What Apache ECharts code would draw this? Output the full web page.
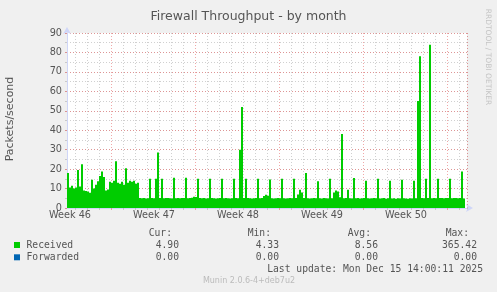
<!DOCTYPE html>
<html><head><meta charset="utf-8">
<script src="https://cdn.jsdelivr.net/npm/echarts@6/dist/echarts.min.js"></script>
<style>html,body{margin:0;padding:0;background:#F0F0F0;}#c{width:497px;height:292px;}</style>
</head><body><div id="c"></div>
<script>
const chartTitle = 'Firewall Throughput - by month';
const yAxisName = 'Packets/second';
const weekLabels = ['Week 46', 'Week 47', 'Week 48', 'Week 49', 'Week 50'];
const weekLabelSlots = [1, 43, 85, 127, 169];
const weekLineSlots = [22, 64, 106, 148, 190];
const yMax = 90;
// Received packets/second, one value per 4-hour slot (200 slots)
const received = [
  18, 10.5, 11.5, 10, 10.5, 19.5, 11, 22.5, 9, 8.8,
  8.5, 7.8, 14.5, 10, 12, 13.7, 16.5, 18.8, 16, 9,
  9.5, 13.5, 13, 14, 24, 13, 12.5, 13.5, 12, 20.5,
  13, 14, 13.5, 14, 12.5, 13, 5.2, 5.0, 5.1, 4.9,
  5.0, 15, 5.1, 5.0, 15, 28.6, 5.1, 15, 5.0, 5.2,
  5.1, 5.0, 4.9, 15.5, 5.0, 5.1, 5.0, 5.2, 5.1, 15.5,
  5.0, 5.1, 5.3, 5.8, 5.6, 15, 5.1, 5.0, 5.1, 4.9,
  5.0, 15, 5.1, 5.0, 4.9, 5.0, 5.1, 15, 5.0, 5.1,
  5.0, 4.9, 5.0, 15, 5.1, 5.0, 30, 52, 5.2, 15,
  5.1, 5.0, 4.9, 5.0, 5.1, 15, 5.0, 5.2, 6.2, 6.8,
  6.3, 14.6, 5.0, 4.9, 5.0, 5.1, 5.0, 15, 5.0, 4.9,
  5.0, 5.1, 5.0, 15, 5.2, 7, 9.4, 8, 5.1, 18,
  5.0, 4.9, 5.0, 5.1, 5.0, 13.7, 5.0, 4.9, 5.1, 5.0,
  4.9, 15, 5.0, 8, 9, 8.5, 5.5, 38, 5.0, 5.1,
  9.4, 5.0, 4.9, 15.4, 5.0, 5.1, 4.9, 5.0, 5.1, 14,
  5.0, 4.9, 5.0, 5.1, 5.0, 15, 4.9, 5.0, 5.1, 4.8,
  5.0, 14, 4.9, 5.0, 4.8, 5.0, 4.9, 14.5, 5.0, 4.9,
  4.8, 5.0, 4.9, 14, 5.0, 55, 78, 5.2, 5.0, 15,
  5.1, 84, 5.0, 5.1, 5.0, 15, 5.2, 5.1, 5.0, 5.2,
  5.1, 15, 5.0, 5.1, 5.2, 5.0, 5.1, 18.8, 4.9, null
];
const statHeaders = ['Cur:', 'Min:', 'Avg:', 'Max:'];
const seriesNames = ['Received', 'Forwarded'];
const seriesColors = ['#00CC00', '#0066B3'];
const receivedStats = ['4.90', '4.33', '8.56', '365.42'];
const forwardedStats = ['0.00', '0.00', '0.00', '0.00'];
const lastUpdate = 'Last update: Mon Dec 15 14:00:11 2025';
const footer = 'Munin 2.0.6-4+deb7u2';
const watermark = 'RRDTOOL / TOBI OETIKER';

const slots = received.map((v, i) => String(i));
const isWeek = (i) => weekLineSlots.indexOf(i) >= 0;
const isDay = (i) => (i - 4) % 6 === 0 && !isWeek(i);
const isLabel = (i) => weekLabelSlots.indexOf(i) >= 0;

const FONT = 'DejaVu Sans';
const MONO = 'DejaVu Sans Mono';
const TXT = '#555';
const AXIS = '#CFD6F8';
const MINOR = 'rgba(170,170,170,0.55)';
const MAJOR = 'rgba(230,110,110,0.6)';

const statCols = [172, 271, 371, 469];
const valCols = [179, 279, 378, 477];
const graphic = [];
statHeaders.forEach((h, k) => graphic.push({type:'text', x: statCols[k], y: 233,
  style:{text:h, font:'9.7px ' + MONO, fill:TXT, align:'right', verticalAlign:'middle'}}));
[receivedStats, forwardedStats].forEach((row, r) => {
  const y = 245 + r * 12.3;
  graphic.push({type:'rect', shape:{x:14, y:y - 3, width:6, height:6}, style:{fill:seriesColors[r]}});
  graphic.push({type:'text', x: 26.5, y: y, style:{text:seriesNames[r], font:'9.7px ' + MONO, fill:TXT, verticalAlign:'middle'}});
  row.forEach((v, k) => graphic.push({type:'text', x: valCols[k], y: y,
    style:{text:v, font:'9.7px ' + MONO, fill:TXT, align:'right', verticalAlign:'middle'}}));
});
graphic.push({type:'text', x: 483, y: 269.7, style:{text:lastUpdate, font:'9.7px ' + MONO, fill:TXT, align:'right', verticalAlign:'middle'}});
graphic.push({type:'text', x: 249, y: 281, style:{text:footer, font:'8px ' + FONT, fill:'#BBBBBB', align:'center', verticalAlign:'middle'}});
graphic.push({type:'text', x: 488, y: 57, rotation: -Math.PI / 2,
  style:{text:watermark, font:'7.5px ' + FONT, fill:'#C4C4C4', align:'center', verticalAlign:'middle'}});
graphic.push({type:'text', x: 10, y: 119, rotation: Math.PI / 2,
  style:{text:yAxisName, font:'11px ' + FONT, fill:TXT, align:'center', verticalAlign:'middle'}});

const chart = echarts.init(document.getElementById('c'), null, {renderer:'canvas'});
chart.setOption({
  animation: false,
  backgroundColor: '#F0F0F0',
  title: {text: chartTitle, left: 'center', top: 5,
    textStyle: {fontFamily: FONT, fontSize: 12.5, fontWeight: 'normal', color: TXT}},
  grid: {left: 67, top: 33, width: 400, height: 175, show: true, backgroundColor: '#FFFFFF', borderWidth: 0},
  xAxis: [
    {type:'category', data: slots, boundaryGap: true, position: 'bottom',
     axisLine: {show: true, lineStyle: {color: AXIS, width: 1}, symbol: ['none', 'arrow'], symbolSize: [6, 7], symbolOffset: [0, 6]},
     axisTick: {show: true, interval: (i) => isDay(i), length: 2, lineStyle: {color: MINOR}},
     axisLabel: {interval: (i) => isLabel(i), formatter: (v, i) => weekLabels[weekLabelSlots.indexOf(Number(v))] || '',
       fontFamily: FONT, fontSize: 9.7, color: TXT, margin: 2},
     splitLine: {show: true, interval: (i) => isDay(i), lineStyle: {color: MINOR, type: [1, 2]}}},
    {type:'category', data: slots, boundaryGap: true, position: 'bottom',
     axisLine: {show: false},
     axisTick: {show: true, interval: (i) => isWeek(i), length: 2, lineStyle: {color: MAJOR}},
     axisLabel: {show: false},
     splitLine: {show: true, interval: (i) => isWeek(i), lineStyle: {color: MAJOR, type: [1, 2]}}}
  ],
  yAxis: [
    {type:'value', min: 0, max: yMax, interval: 5, position: 'left',
     axisLine: {show: false}, axisTick: {show: true, length: 2, lineStyle: {color: MINOR}},
     axisLabel: {show: false},
     splitLine: {show: true, lineStyle: {color: MINOR, type: [1, 2]}}},
    {type:'value', min: 0, max: yMax, interval: 10, position: 'left',
     axisLine: {show: true, lineStyle: {color: AXIS, width: 1}, symbol: ['none', 'arrow'], symbolSize: [6, 7], symbolOffset: [0, 6]},
     axisTick: {show: true, length: 2, lineStyle: {color: MAJOR}},
     axisLabel: {fontFamily: FONT, fontSize: 9.7, color: TXT, margin: 5},
     splitLine: {show: true, lineStyle: {color: MAJOR, type: [1, 2]}}}
  ],
  series: [
    {name: seriesNames[0], type: 'bar', data: received, xAxisIndex: 0, yAxisIndex: 1,
     barCategoryGap: '0%', barGap: '0%', itemStyle: {color: seriesColors[0]}, silent: true, large: false}
  ],
  graphic: graphic
});
</script></body></html>
